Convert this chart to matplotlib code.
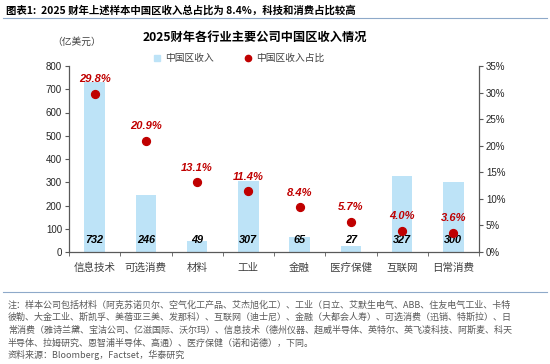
import matplotlib.pyplot as plt
from matplotlib.lines import Line2D
import numpy as np

plt.rcParams['font.family'] = ['Liberation Sans', 'Noto Sans CJK SC', 'DejaVu Sans']
cjk = ['Noto Sans CJK SC', 'DejaVu Sans']

# data
categories = ['信息技术', '可选消费', '材料', '工业', '金融', '医疗保健', '互联网', '日常消费']
revenue = [732, 246, 49, 307, 65, 27, 327, 300]      # 亿美元
share = [29.8, 20.9, 13.1, 11.4, 8.4, 5.7, 4.0, 3.6]  # %
left_ticks = [0, 100, 200, 300, 400, 500, 600, 700, 800]
right_ticks = [0, 5, 10, 15, 20, 25, 30, 35]

bar_color = '#BDE3F7'
dot_color = '#C00000'
axis_color = '#595959'

fig = plt.figure(figsize=(5.5, 3.64), dpi=100)
ax = fig.add_axes([69/550, 1-252/364, 410/550, 186/364])
ax2 = ax.twinx()

x = np.arange(len(categories))
ax.bar(x, revenue, width=0.4, color=bar_color, zorder=1)
for xi, v in zip(x, revenue):
    ax.text(xi, 50, str(v), ha='center', va='center', fontsize=7.8,
            fontweight='bold', fontstyle='italic', color='black', zorder=5)

ax2.scatter(x, share, s=32, color=dot_color, zorder=3)
for xi, s in zip(x, share):
    ax2.annotate(f'{s:.1f}%', (xi, s), xytext=(0, 10.5), textcoords='offset points',
                 ha='center', va='center', fontsize=8, fontweight='bold',
                 fontstyle='italic', color=dot_color)

ax.set_xlim(-0.5, len(categories) - 0.5)
ax.set_ylim(0, 800)
ax2.set_ylim(0, 35)
ax.set_yticks(left_ticks)
ax.set_yticklabels([str(t) for t in left_ticks])
ax2.set_yticks(right_ticks)
ax2.set_yticklabels([f'{t}%' for t in right_ticks])

ax.set_xticks(x)
ax.set_xticklabels(categories, family=cjk, fontsize=7.6, color='#404040')
ax.set_xticks(np.arange(-0.5, len(categories)), minor=True)
ax.tick_params(axis='x', which='major', length=0, pad=8)
ax.tick_params(axis='x', which='minor', length=3, color=axis_color, direction='out')

for a in (ax, ax2):
    a.tick_params(axis='y', length=3, color=axis_color, labelsize=7, labelcolor='#262626', pad=2)
    a.spines['top'].set_visible(False)
    for sp in ('left', 'right', 'bottom'):
        a.spines[sp].set_color(axis_color)
        a.spines[sp].set_linewidth(0.9)
ax.spines['right'].set_visible(False)
ax2.spines['left'].set_visible(False)
ax2.spines['bottom'].set_visible(False)

# legend
handles = [Line2D([], [], marker='s', linestyle='', markersize=5, color=bar_color),
           Line2D([], [], marker='o', linestyle='', markersize=4.5, color=dot_color)]
fig.legend(handles, ['中国区收入', '中国区收入占比'], loc='center', ncol=2,
           bbox_to_anchor=(0.433, 1-58/364), frameon=False, prop={'family': cjk, 'size': 7},
           handletextpad=0.3, columnspacing=3, handlelength=1.0, labelcolor='#404040')

# titles
fig.text(0.01, 1-10/364, '图表1:  2025 财年上述样本中国区收入总占比为 8.4%，科技和消费占比较高',
         family=cjk, fontsize=7.5, fontweight='bold', va='center', ha='left')
fig.add_artist(Line2D([0.005, 0.995], [1-18/364, 1-18/364], color='#8EA9C9', lw=0.8))
fig.text(255/550, 1-37/364, '2025财年各行业主要公司中国区收入情况', family=cjk,
         fontsize=8.8, fontweight='bold', va='center', ha='center')
fig.text(77/550, 1-42/364, '（亿美元）', family=cjk, fontsize=7, va='center', ha='center', color='#404040')

# notes
fig.add_artist(Line2D([0.005, 0.995], [1-292/364, 1-292/364], color='#8EA9C9', lw=0.8))
notes = [
    '注：样本公司包括材料（阿克苏诺贝尔、空气化工产品、艾杰旭化工）、工业（日立、艾默生电气、ABB、住友电气工业、卡特',
    '彼勒、大金工业、斯凯孚、美蓓亚三美、发那科）、互联网（迪士尼）、金融（大都会人寿）、可选消费（迅销、特斯拉）、日',
    '常消费（雅诗兰黛、宝洁公司、亿滋国际、沃尔玛）、信息技术（德州仪器、超威半导体、英特尔、英飞凌科技、阿斯麦、科天',
    '半导体、拉姆研究、恩智浦半导体、高通）、医疗保健（诺和诺德），下同。',
    '资料来源：Bloomberg，Factset，华泰研究',
]
for i, line in enumerate(notes):
    fig.text(8/550, 1-(305 + 12.6*i)/364, line, family=cjk, fontsize=6.5,
             color='#595959', va='center', ha='left')

fig.savefig('out.png', dpi=100)
